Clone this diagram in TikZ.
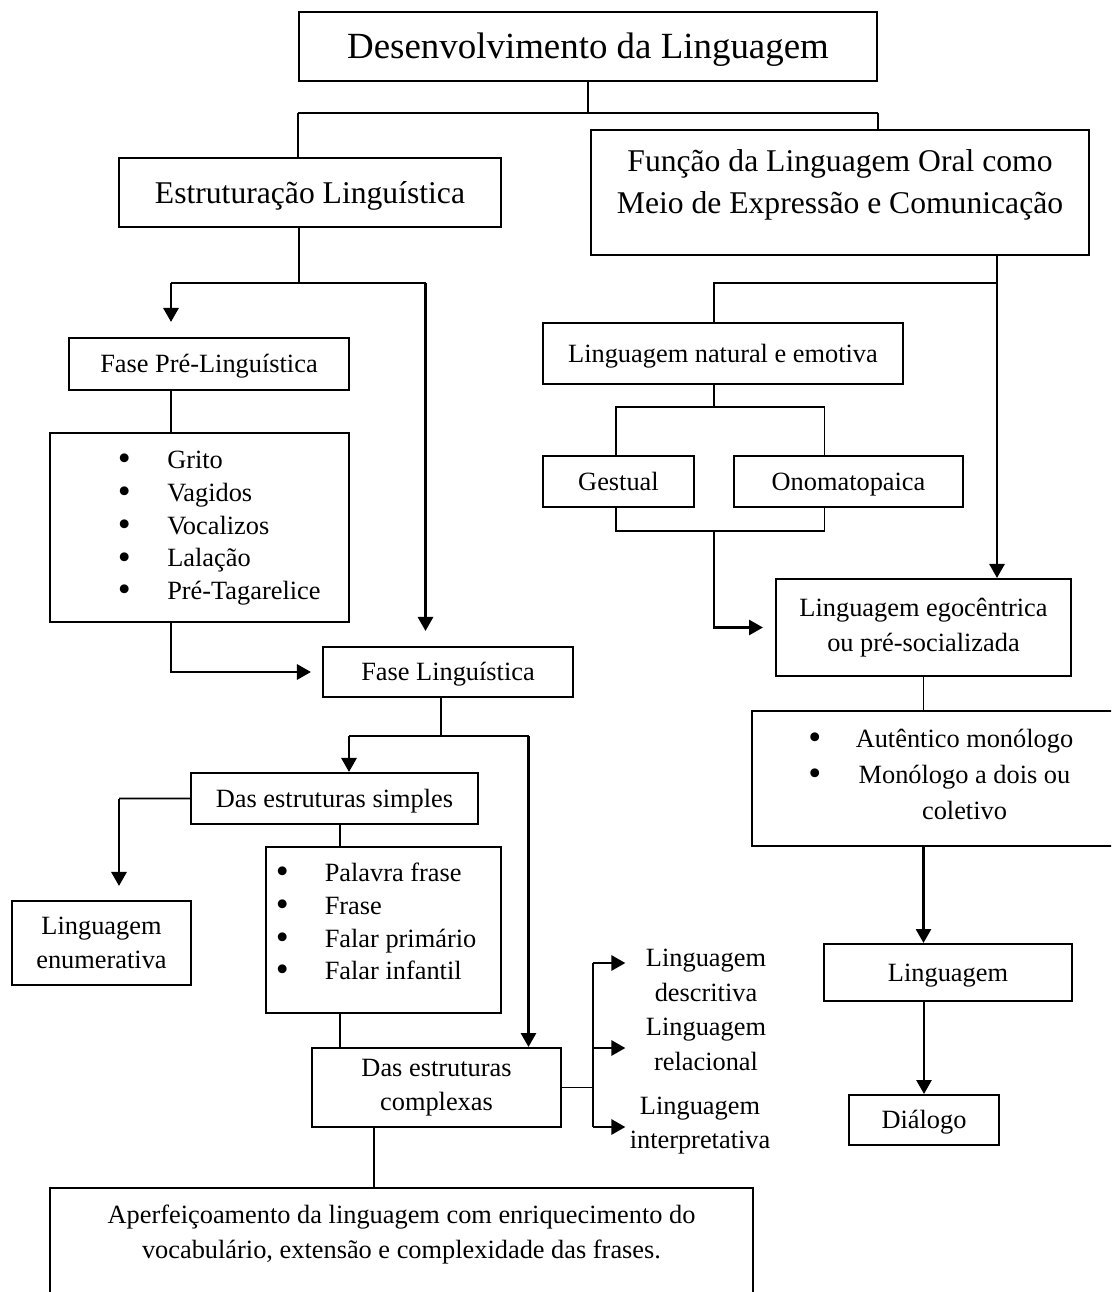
\documentclass[tikz,border=0pt]{standalone}
\usepackage{fontspec}
\setmainfont{Liberation Serif}
\usetikzlibrary{arrows.meta, positioning}
\tikzset{
  on grid,
  conn/.style={line width=1.1pt},
  arr/.style={line width=1.6pt, -{Triangle[length=0.28cm, width=0.3cm]}},
  oneline/.style={text height=10.4pt, text depth=0.2pt},
}
\newcommand{\blt}{\smash{\raisebox{-1.2pt}{\fontsize{21}{21}\selectfont\textbullet}}}

\begin{document}
\begin{tikzpicture}[box/.style = {draw, line width=1.15pt, inner sep=0pt,
      align=center, font=\fontsize{15}{19.5}\selectfont},
    txt/.style = {inner sep=1pt, align=center, font=\fontsize{15}{19.5}\selectfont}]

  \useasboundingbox (0,0) rectangle (22.22,-25.84);
  \clip (0,0) rectangle (22.22,-25.84);

  % --- Nodes ---
  \node[box, text height=14.5pt, text depth=0.3pt, minimum width=11.56cm, minimum height=1.38cm, font=\fontsize{21}{25}\selectfont] (title) at (11.76,-0.93) {Desenvolvimento da Linguagem};
  \node[box, text height=12.4pt, text depth=0.2pt, minimum width=7.64cm, minimum height=1.38cm, font=\fontsize{18}{23.8}\selectfont, below left=2.92cm and 5.56cm of title] (estr) {Estruturação Linguística};
  \node[box, minimum width=9.96cm, minimum height=2.5cm, below right=2.92cm and 5.04cm of title] (funcao) {};
  \node[txt, font=\fontsize{18}{23.8}\selectfont, above=0.15cm of funcao] (funcaotxt) {Função da Linguagem Oral como\\Meio de Expressão e Comunicação};

  % left side
  \node[box, oneline, minimum width=5.6cm, minimum height=1.04cm, below left=3.43cm and 2.02cm of estr] (fpre) {Fase Pré-Linguística};
  \node[box, minimum width=5.98cm, minimum height=3.78cm, below left=3.27cm and 0.19cm of fpre] (preitens) {};
  \node[txt, inner sep=0pt, anchor=west, font=\fontsize{15}{18.7}\selectfont] (pretxt) at ([xshift=-1.64cm]preitens.center)
    {\begin{tabular}{@{}l@{\hspace{0.73cm}}l@{}}
      \blt & Grito\\ \blt & Vagidos\\ \blt & Vocalizos\\
      \blt & Lalação\\ \blt & Pré-Tagarelice
    \end{tabular}};
  \node[box, oneline, minimum width=5cm, minimum height=1cm, below right=2.89cm and 4.97cm of preitens] (flin) {Fase Linguística};
  \node[box, oneline, minimum width=5.74cm, minimum height=1.02cm, below left=2.53cm and 2.27cm of flin] (simples) {Das estruturas simples};
  \node[box, minimum width=3.58cm, minimum height=1.68cm, below left=2.89cm and 4.66cm of simples] (enum) {Linguagem\\enumerativa};
  \node[box, minimum width=4.7cm, minimum height=3.32cm, below right=2.63cm and 0.98cm of simples] (simitens) {};
  \node[txt, inner sep=0pt, anchor=west, font=\fontsize{15}{18.7}\selectfont] (simtxt) at ([xshift=-2.16cm, yshift=0.12cm]simitens.center)
    {\begin{tabular}{@{}l@{\hspace{0.72cm}}l@{}}
      \blt & Palavra frase\\ \blt & Frase\\
      \blt & Falar primário\\ \blt & Falar infantil
    \end{tabular}};
  \node[box, minimum width=4.98cm, minimum height=1.58cm, below right=3.15cm and 1.06cm of simitens] (complexas) {Das estruturas\\complexas};
  \node[box, minimum width=14.06cm, minimum height=3.04cm, below left=3.53cm and 0.7cm of complexas] (final) {};
  \node[txt, above=0.59cm of final] (finaltxt) {Aperfeiçoamento da linguagem com enriquecimento do\\vocabulário, extensão e complexidade das frases.};
  \node[txt, text width=2.9cm, above right=0.86cm and 5.39cm of complexas] (relac) {Linguagem\\relacional};
  \node[txt, text width=2.9cm, above=1.38cm of relac] (desc) {Linguagem\\descritiva};
  \node[txt, text width=2.9cm, below left=1.62cm and 0.12cm of relac] (interp) {Linguagem\\interpretativa};

  % right side
  \node[box, oneline, minimum width=7.2cm, minimum height=1.22cm, below left=3.22cm and 2.34cm of funcao] (natural) {Linguagem natural e emotiva};
  \node[box, oneline, minimum width=3.02cm, minimum height=1.02cm, below left=2.56cm and 2.09cm of natural] (gest) {Gestual};
  \node[box, oneline, minimum width=4.59cm, minimum height=1.02cm, right=4.6cm of gest] (onom) {Onomatopaica};
  \node[box, minimum width=5.9cm, minimum height=1.94cm, below right=2.92cm and 1.5cm of onom] (ego) {Linguagem egocêntrica\\ou pré-socializada};
  \node[box, minimum width=7.66cm, minimum height=2.7cm, below right=3.02cm and 0.4cm of ego] (egoitens) {};
  \node[txt, inner sep=0pt, anchor=west, font=\fontsize{15}{20.4}\selectfont] (egotxt) at ([xshift=-2.71cm, yshift=0.05cm]egoitens.center)
    {\begin{tabular}{@{}c@{\hspace{0.69cm}}c@{}}
      \blt & Autêntico monólogo\\ \blt & Monólogo a dois ou\\ & coletivo
    \end{tabular}};
  \node[box, oneline, minimum width=4.96cm, minimum height=1.14cm, below right=3.88cm and 0.09cm of egoitens] (ling) {Linguagem};
  \node[box, oneline, minimum width=2.99cm, minimum height=1cm, below left=2.95cm and 0.48cm of ling] (dialogo) {Diálogo};

  % --- Connectors (plain lines and arrows) ---
  \coordinate (jtop) at (11.76,-2.26);
  \draw[conn] (title.south) -- (jtop);
  \draw[conn] (title.west |- jtop) -- (title.east |- jtop);
  \draw[conn] (title.west |- jtop) -- (title.west |- estr.north);
  \draw[conn] (title.east |- jtop) -- (title.east |- funcao.north);

  \coordinate (jl) at (5.98,-5.66);
  \coordinate (jla) at (3.42,-5.66);
  \coordinate (jlb) at (8.51,-5.66);
  \draw[conn] (estr.south -| jl) -- (jl);
  \draw[conn] (jla) -- (jlb);
  \draw[arr, shorten >=0.3cm] (jla) -- (jla |- fpre.north);
  \draw[arr, shorten >=0.3cm] (jlb) -- (jlb |- flin.north);
  \draw[conn] (fpre.south -| jla) -- (jla |- preitens.north);
  \draw[arr, shorten >=0.22cm] (preitens.south -| jla) |- (flin.west);

  \coordinate (jf) at (8.82,-14.72);
  \coordinate (jfa) at (6.98,-14.72);
  \coordinate (jfb) at (10.57,-14.72);
  \draw[conn] (flin.south -| jf) -- (jf);
  \draw[conn] (jfa) -- (jfb);
  \draw[arr] (jfa) -- (jfa |- simples.north);
  \draw[arr] (jfb) -- (jfb |- complexas.north);
  \coordinate (je) at (2.38,-15.97);
  \draw[conn] (simples.west) -- (je);
  \draw[arr, shorten >=0.28cm] (je) -- (je |- enum.north);

  \coordinate (xs) at (6.8,0);
  \coordinate (xc) at (7.48,0);
  \draw[conn] (simples.south -| xs) -- (simitens.north -| xs);
  \draw[conn] (simitens.south -| xs) -- (complexas.north -| xs);
  \draw[conn] (complexas.south -| xc) -- (final.north -| xc);

  \coordinate (jc1) at (11.86,-19.26);
  \coordinate (jc2) at (11.86,-20.96);
  \coordinate (jc3) at (11.86,-22.54);
  \draw[conn] (complexas.east) -- (complexas.east -| jc1);
  \draw[conn] (jc1) -- (jc3);
  \draw[arr, shorten >=0.12cm] (jc1) -- (jc1 -| desc.west);
  \draw[arr, shorten >=0.12cm] (jc2) -- (jc2 -| relac.west);
  \draw[arr] (jc3) -- (jc3 -| interp.west);

  \coordinate (jr) at (19.94,-5.66);
  \coordinate (jn) at (14.28,-5.66);
  \draw[arr] (funcao.south -| jr) -- (jr |- ego.north);
  \draw[conn] (jr) -- (jn) -- (jn |- natural.north);
  \coordinate (jg) at (14.28,-8.14);
  \coordinate (jga) at (12.32,-8.14);
  \coordinate (jgb) at (16.49,-8.14);
  \draw[conn] (natural.south -| jg) -- (jg);
  \draw[conn] (gest.north -| jga) -- (jga) -- (jgb) -- (onom.north -| jgb);
  \coordinate (jh) at (14.28,-10.62);
  \draw[conn] (gest.south -| jga) -- (jga |- jh) -- (jgb |- jh) -- (onom.south -| jgb);
  \draw[arr, shorten >=0.24cm] (jh) |- (ego.west);
  \draw[conn] (ego.south) -- (ego.south |- egoitens.north);
  \draw[arr] (ego.south |- egoitens.south) -- (ego.south |- ling.north);
  \draw[arr] (ling.south -| dialogo.north) -- (dialogo.north);

\end{tikzpicture}
\end{document}
